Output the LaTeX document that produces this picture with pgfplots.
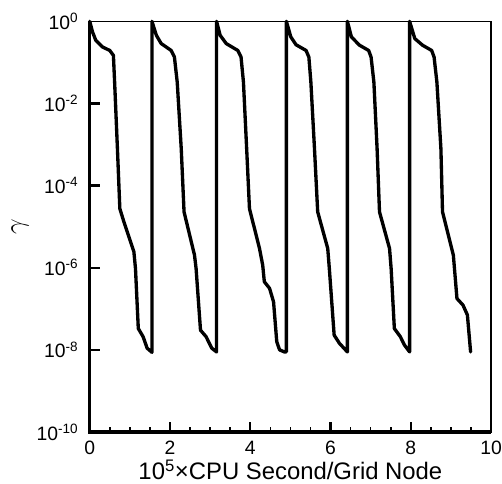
\documentclass[border=0pt]{standalone}
\usepackage{pgfplots}
\pgfplotsset{compat=1.18}
\usepackage{fontspec}
\setmainfont{Liberation Sans}
\begin{document}
\begin{tikzpicture}
\begin{axis}[
  name=ax,
  scale only axis,
  clip=false,
  width=301pt, height=308pt,
  xmin=0, xmax=10,
  ymode=log, ymin=1e-10, ymax=1,
  xtick={0,2,4,6,8,10},
  minor xtick={},
  ytick={1e-10,1e-8,1e-6,1e-4,1e-2,1},
  yticklabels={10\textsuperscript{-10},10\textsuperscript{-8},10\textsuperscript{-6},10\textsuperscript{-4},10\textsuperscript{-2},10\textsuperscript{0}},
  minor ytick={},
  xtick pos=left,
  ytick pos=left,
  tick style={draw=none},
  axis line style={line width=1.2pt},
  /pgf/number format/assume math mode=true,
  tick label style={font=\fontsize{14.5}{16}\selectfont},
  xticklabel style={yshift=-3pt},
  yticklabel style={xshift=-5pt},
  xlabel={10\textsuperscript{5}×CPU Second/Grid Node},
  xlabel style={font=\fontsize{17.9}{20}\selectfont, yshift=3pt},
  ylabel={$\gamma$},
  ylabel style={font=\fontsize{22}{24}\selectfont, yshift=-1pt},
]
% thicker left and bottom axis lines
\addplot[black, line width=2.6pt, forget plot] coordinates {(0,1) (0,1e-10) (10,1e-10)};
% major x ticks
\addplot[black, line width=1.8pt, forget plot] coordinates {(2,1e-10) (2,1.753e-10)};
\addplot[black, line width=1.8pt, forget plot] coordinates {(4,1e-10) (4,1.753e-10)};
\addplot[black, line width=1.8pt, forget plot] coordinates {(6,1e-10) (6,1.753e-10)};
\addplot[black, line width=1.8pt, forget plot] coordinates {(8,1e-10) (8,1.753e-10)};
% minor x ticks
\addplot[black, line width=1.2pt, forget plot] coordinates {(0.5,1e-10) (0.5,1.349e-10)};
\addplot[black, line width=1.2pt, forget plot] coordinates {(1,1e-10) (1,1.349e-10)};
\addplot[black, line width=1.2pt, forget plot] coordinates {(1.5,1e-10) (1.5,1.349e-10)};
\addplot[black, line width=1.2pt, forget plot] coordinates {(2.5,1e-10) (2.5,1.349e-10)};
\addplot[black, line width=1.2pt, forget plot] coordinates {(3,1e-10) (3,1.349e-10)};
\addplot[black, line width=1.2pt, forget plot] coordinates {(3.5,1e-10) (3.5,1.349e-10)};
\addplot[black, line width=1.2pt, forget plot] coordinates {(4.5,1e-10) (4.5,1.349e-10)};
\addplot[black, line width=1.2pt, forget plot] coordinates {(5,1e-10) (5,1.349e-10)};
\addplot[black, line width=1.2pt, forget plot] coordinates {(5.5,1e-10) (5.5,1.349e-10)};
\addplot[black, line width=1.2pt, forget plot] coordinates {(6.5,1e-10) (6.5,1.349e-10)};
\addplot[black, line width=1.2pt, forget plot] coordinates {(7,1e-10) (7,1.349e-10)};
\addplot[black, line width=1.2pt, forget plot] coordinates {(7.5,1e-10) (7.5,1.349e-10)};
\addplot[black, line width=1.2pt, forget plot] coordinates {(8.5,1e-10) (8.5,1.349e-10)};
\addplot[black, line width=1.2pt, forget plot] coordinates {(9,1e-10) (9,1.349e-10)};
\addplot[black, line width=1.2pt, forget plot] coordinates {(9.5,1e-10) (9.5,1.349e-10)};
% major y ticks
\addplot[black, line width=1.8pt, forget plot] coordinates {(0,1e-8) (0.249,1e-8)};
\addplot[black, line width=1.8pt, forget plot] coordinates {(0,1e-6) (0.249,1e-6)};
\addplot[black, line width=1.8pt, forget plot] coordinates {(0,1e-4) (0.249,1e-4)};
\addplot[black, line width=1.8pt, forget plot] coordinates {(0,1e-2) (0.249,1e-2)};
% residual history
\addplot[black, line width=2.5pt, line join=round, line cap=round] coordinates {
(0,1) (0.07,0.550) (0.15,0.347) (0.31,0.240) (0.50,0.195) (0.59,0.148)
(0.62,0.0331) (0.69,7.94e-4) (0.75,2.75e-5) (0.85,1.32e-5) (1.10,2.45e-6)
(1.14,9.55e-7) (1.21,3.31e-8) (1.33,2.09e-8) (1.43,1.10e-8) (1.55,8.71e-9)
(1.55,1) (1.66,0.457) (1.78,0.288) (2.03,0.195) (2.11,0.135)
(2.18,0.0331) (2.28,7.94e-4) (2.35,2.29e-5) (2.61,2.04e-6) (2.65,9.55e-7)
(2.76,3.02e-8) (2.90,2.09e-8) (3.04,1.10e-8) (3.16,8.91e-9)
(3.16,1) (3.25,0.457) (3.40,0.288) (3.69,0.195) (3.77,0.135)
(3.83,0.0331) (3.91,7.94e-4) (3.98,2.75e-5) (4.23,2.95e-6) (4.31,1.15e-6)
(4.35,4.57e-7) (4.48,3.16e-7) (4.58,1.48e-7) (4.66,1.58e-8) (4.73,1e-8)
(4.85,8.91e-9) (4.90,8.91e-9)
(4.90,1) (5.01,0.417) (5.14,0.269) (5.39,0.195) (5.46,0.135)
(5.51,0.0331) (5.60,7.94e-4) (5.68,2.29e-5) (5.93,2.95e-6) (5.97,9.55e-7)
(6.09,2.29e-8) (6.22,1.45e-8) (6.42,8.91e-9)
(6.42,1) (6.52,0.417) (6.72,0.263) (6.95,0.195) (7.01,0.135)
(7.08,0.0331) (7.16,7.94e-4) (7.22,2.29e-5) (7.47,2.95e-6) (7.51,9.55e-7)
(7.59,3.31e-8) (7.74,2.09e-8) (7.84,1.32e-8) (7.97,8.91e-9)
(7.97,1) (8.10,0.380) (8.29,0.263) (8.52,0.195) (8.58,0.135)
(8.65,0.0331) (8.75,7.94e-4) (8.79,2.29e-5) (9.06,2.04e-6) (9.15,1.78e-7)
(9.30,1.23e-7) (9.41,7.08e-8) (9.49,8.91e-9)
};
\end{axis}
\pgfresetboundingbox
\path (ax.south west) ++(-67.3pt,-39pt) rectangle ([xshift=309.2pt,yshift=324pt]ax.south west);
\end{tikzpicture}
\end{document}
